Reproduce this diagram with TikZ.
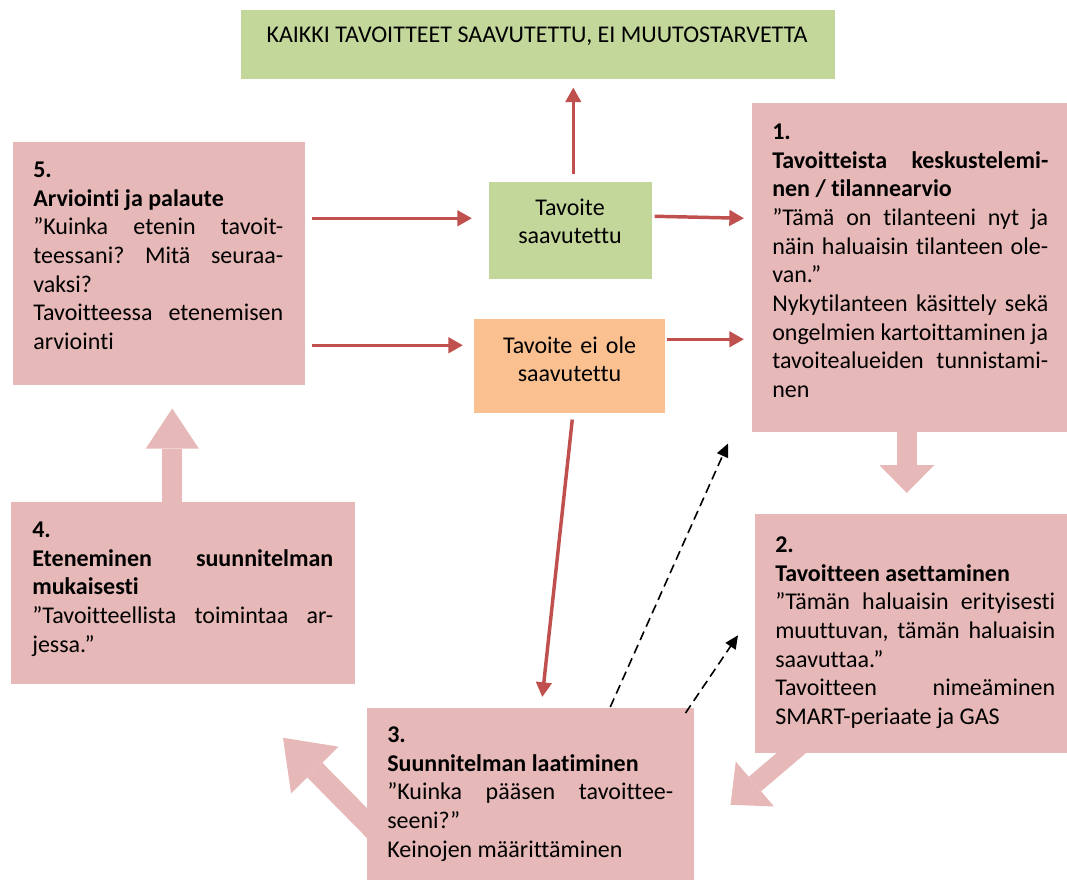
\documentclass[tikz,border=0pt]{standalone}
\usepackage{fontspec}
\setmainfont[Ligatures=NoCommon]{Carlito}
\usetikzlibrary{arrows.meta}
\definecolor{boxpink}{RGB}{230,184,183}
\definecolor{goalgreen}{RGB}{196,215,155}
\definecolor{notorange}{RGB}{250,192,144}
\definecolor{arrowred}{RGB}{192,80,77}
\hyphenpenalty=10000
\frenchspacing
\newcommand{\boxfont}{\fontsize{18}{21.5}\selectfont}
\tikzset{
  boxsize/.style 2 args={minimum width=#1*0.75pt, minimum height=#2*0.75pt},
  pinkbox/.style={fill=boxpink, inner sep=0pt, anchor=north west},
  greenbox/.style={fill=goalgreen, inner sep=0pt, anchor=north west},
  orangebox/.style={fill=notorange, inner sep=0pt, anchor=north west},
  boxtext/.style={anchor=base west, inner sep=0pt, align=justify, font=\boxfont},
  redarrow/.style={draw=arrowred, line width=2.6pt, -{Triangle[length=11pt, width=11.5pt]}},
  dasharrow/.style={draw=black, line width=1.2pt, dash pattern=on 7pt off 4pt, -{Triangle[length=10pt, width=9pt]}},
  blockarrow/.style n args={3}{draw=boxpink, line width=#1, -{Triangle[length=#2, width=#3, line width=0pt]}}
}

\begin{document}
\begin{tikzpicture}[x=0.75pt, y=0.75pt]
  \useasboundingbox (0,0) rectangle (1067,-881);
  % boxes
  \node[greenbox, boxsize={594}{69}] (goal) at (241,-10) {};
  \node[greenbox, boxsize={163}{97}] (ok) at (489,-182) {};
  \node[orangebox, boxsize={191}{94}] (notok) at (474,-319) {};
  \node[pinkbox, boxsize={315}{329}] (box1) at (752,-103) {};
  \node[pinkbox, boxsize={312}{239}] (box2) at (755,-514) {};
  \node[pinkbox, boxsize={327}{172}] (box3) at (367,-708) {};
  \node[pinkbox, boxsize={344}{182}] (box4) at (11,-502) {};
  \node[pinkbox, boxsize={292}{243}] (box5) at (13,-142) {};

  % block arrows of the cycle
  \draw[blockarrow={14.6pt}{21pt}{41.25pt}] ([shift={(-3,7)}]box1.south) -- ([shift={(-4.5,21)}]box2.north);
  \draw[blockarrow={14.25pt}{24pt}{44.25pt}] ([shift={(-109.4,9.5)}]box2.south) -- ([shift={(36,-10.5)}]box3.east);
  \draw[blockarrow={15.75pt}{34pt}{50pt}] ([shift={(11,-40)}]box3.west) -- ([shift={(-84,56.5)}]box3.west);
  \draw[blockarrow={15pt}{30pt}{39.75pt}] ([shift={(-11,-6)}]box4.north) -- ([shift={(13,-23)}]box5.south);

  % red arrows
  \draw[redarrow] ([shift={(2.5,8)}]ok.north) -- ([shift={(35,-8)}]goal.south);
  \draw[redarrow] ([shift={(6,45.5)}]box5.east) -- ([shift={(-17,12.5)}]ok.west);
  \draw[redarrow] ([shift={(6,-81.5)}]box5.east) -- ([shift={(-11,21)}]notok.west);
  \draw[redarrow] ([shift={(2,14.5)}]ok.east) -- ([shift={(-8,49.5)}]box1.west);
  \draw[redarrow] ([shift={(1,27)}]notok.east) -- ([shift={(-8,-71.5)}]box1.west);
  \draw[redarrow] ([shift={(2.5,-6)}]notok.south) -- ([shift={(11.5,11)}]box3.north);

  % dashed arrows back
  \draw[dasharrow] ([shift={(79.5,1)}]box3.north) -- ([shift={(-24,-11)}]box1.south west);
  \draw[dasharrow] ([shift={(-9,-5)}]box3.north east) -- ([shift={(-17,-1.5)}]box2.west);

  % texts
  \node[font=\boxfont, anchor=base, inner sep=0pt] (goaltxt) at (537,-43) {KAIKKI TAVOITTEET SAAVUTETTU, EI MUUTOSTARVETTA};
  \node[boxtext, anchor=base, align=center, text width=150pt] (oktxt) at (570,-215) {Tavoite\\saavutettu};
  \node[boxtext, anchor=base, align=center, text width=150pt] (notoktxt) at (569.5,-353) {Tavoite ei ole\\saavutettu};
  \node[boxtext, text width=207pt] (txt1) at (772,-139.5) {\textbf{1.}\\
    \textbf{Tavoitteista keskustelemi-\linebreak nen / tilannearvio}\\
    ”Tämä on tilanteeni nyt ja\linebreak näin haluaisin tilanteen ole-\linebreak van.”\\
    Nykytilanteen käsittely sekä\linebreak ongelmien kartoittaminen ja\linebreak tavoitealueiden tunnistami-\linebreak nen};
  \node[boxtext, text width=210pt] (txt2) at (775,-552.5) {\textbf{2.}\\
    \textbf{Tavoitteen asettaminen}\\
    ”Tämän haluaisin erityisesti\linebreak muuttuvan, tämän haluaisin\linebreak saavuttaa.”\\
    Tavoitteen nimeäminen\linebreak SMART-periaate ja GAS};
  \node[boxtext, text width=214.5pt] (txt3) at (387,-742.5) {\textbf{3.}\\
    \textbf{Suunnitelman laatiminen}\\
    ”Kuinka pääsen tavoittee-\linebreak seeni?”\\
    Keinojen määrittäminen};
  \node[boxtext, text width=225.75pt] (txt4) at (32,-537.5) {\textbf{4.}\\
    \textbf{Eteneminen suunnitelman\linebreak mukaisesti}\\
    ”Tavoitteellista toimintaa ar-\linebreak jessa.”};
  \node[boxtext, text width=187.5pt] (txt5) at (33,-177.5) {\textbf{5.}\\
    \textbf{Arviointi ja palaute}\\
    ”Kuinka etenin tavoit-\linebreak teessani? Mitä seuraa-\linebreak vaksi?\\
    Tavoitteessa etenemisen\linebreak arviointi};
\end{tikzpicture}
\end{document}
